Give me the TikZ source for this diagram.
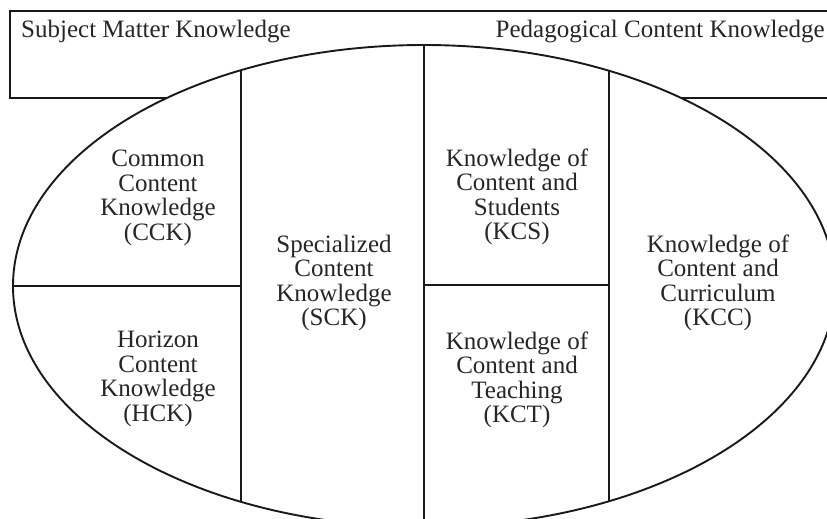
\documentclass[tikz,border=0pt]{standalone}
\usepackage{fontspec}
\setmainfont{Liberation Serif}
\begin{document}
\begin{tikzpicture}[x=1pt,y=-1pt,
  frame/.style={draw=black!90,line width=1.9pt},
  area/.style={align=center,font=\fontsize{25}{24.5}\selectfont,text=black!85,inner sep=0pt},
  heading/.style={font=\fontsize{25}{24.5}\selectfont,text=black!85,inner sep=0pt}]
\useasboundingbox (0,0) rectangle (827,519);
\clip (0,0) rectangle (827,519);
% outer band holding the two headings
\draw[frame] (10,11) rectangle (860,98);
\node[heading,anchor=base west] (smk) at (21,38) {Subject Matter Knowledge};
\node[heading,anchor=base east] (pck) at (825,38) {Pedagogical Content Knowledge};
% central ellipse with its dividers
\draw[frame,fill=white] (424,286) ellipse [x radius=411, y radius=241];
\coordinate (c1t) at (241,70);  \coordinate (c1b) at (241,502);
\coordinate (c2t) at (424,45);  \coordinate (c2b) at (424,530);
\coordinate (c3t) at (609,70);  \coordinate (c3b) at (609,502);
\coordinate (hl) at (13,286);   \coordinate (hr) at (241,286);
\coordinate (kl) at (424,285);  \coordinate (kr) at (609,285);
\draw[frame] (c1t) -- (c1b);
\draw[frame] (c2t) -- (c2b);
\draw[frame] (c3t) -- (c3b);
\draw[frame] (hl) -- (hr);
\draw[frame] (kl) -- (kr);
% domain labels
\node[area] (cck) at (158,198) {Common\\Content\\Knowledge\\(CCK)};
\node[area] (hck) at (158,379) {Horizon\\Content\\Knowledge\\(HCK)};
\node[area] (sck) at (334,283) {Specialized\\Content\\Knowledge\\(SCK)};
\node[area] (kcs) at (517,197) {Knowledge of\\Content and\\Students\\(KCS)};
\node[area] (kct) at (517,380) {Knowledge of\\Content and\\Teaching\\(KCT)};
\node[area] (kcc) at (718,283) {Knowledge of\\Content and\\Curriculum\\(KCC)};
\end{tikzpicture}
\end{document}
